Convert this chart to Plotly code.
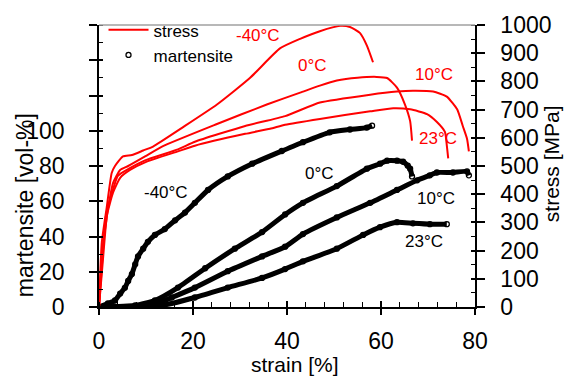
import plotly.graph_objects as go

# ---------------- data ----------------
# stress curves (strain %, stress MPa)
s_strain_m40 = [0, 0.6, 1.6, 2.7, 3.4, 5.1, 7.0, 9.4, 11.5, 17.9, 25.1, 32.1, 38.5, 42.8, 47.0, 51.3, 53.4, 55.5, 57.0, 58.3]
s_stress_m40 = [0, 230, 348, 475, 500, 534, 539, 555, 569, 638, 718, 812, 917, 951, 978, 997, 993, 972, 927, 868]

s_strain_0 = [0, 0.7, 1.5, 1.9, 3.0, 4.5, 6.2, 9.8, 13.4, 25.1, 35.7, 42.8, 47.0, 50.6, 55.0, 59.1, 61.3, 63.4, 65.1, 66.2, 66.6]
s_stress_0 = [0, 200, 300, 347, 440, 486, 500, 534, 569, 649, 718, 760, 785, 803, 813, 816, 812, 778, 718, 659, 590]

s_strain_10 = [0, 0.8, 1.5, 2.8, 4.0, 6.2, 9.8, 16.8, 20.4, 31.1, 39.6, 47.0, 57.7, 63.4, 66.8, 71.1, 74.0, 76.2, 77.4, 78.3, 78.7]
s_stress_10 = [0, 190, 326, 406, 465, 489, 520, 559, 586, 642, 677, 725, 753, 764, 767, 764, 746, 701, 642, 597, 552]

s_strain_23 = [0, 0.9, 1.7, 3.0, 4.5, 6.6, 9.8, 16.8, 20.4, 31.1, 36.4, 39.6, 47.0, 57.7, 62.6, 66.2, 69.8, 71.9, 73.6, 74.0, 74.3]
s_stress_23 = [0, 180, 326, 406, 458, 486, 513, 552, 572, 614, 632, 646, 667, 694, 705, 701, 684, 656, 621, 573, 527]

# martensite curves (strain %, vol-%)
m_strain_m40 = [0, 1.9, 3.4, 4.5, 5.5, 6.2, 7.0, 7.7, 8.3, 9.4, 10.4, 11.9, 14.0, 16.2, 18.3, 20.4, 23.2, 27.4, 32.6, 38.9, 43.4, 49.1, 53.4, 57.0, 58.1]
m_vol_m40 = [0, 2.0, 3.7, 7.6, 10.9, 14.8, 18.7, 24.2, 28.7, 33.1, 37.0, 40.9, 44.2, 49.2, 53.6, 59.1, 66.4, 74.1, 81.3, 88.5, 93.5, 99.1, 100.7, 101.8, 102.9]

m_strain_0 = [0, 7.7, 11.9, 16.8, 22.6, 28.9, 34.7, 39.6, 43.4, 50.6, 57.0, 59.8, 61.3, 63.4, 64.7, 65.7, 66.2, 66.6]
m_vol_0 = [0, 0.9, 3.7, 11.0, 22.0, 33.1, 42.5, 52.5, 59.1, 68.6, 78.5, 81.3, 83.0, 83.0, 82.4, 80.2, 78.5, 74.1]

m_strain_10 = [0, 8.7, 11.3, 15.5, 20.4, 27.4, 34.7, 39.6, 43.4, 50.6, 57.7, 63.4, 67.7, 70.4, 71.9, 75.3, 78.3, 78.7]
m_vol_10 = [0, 0.4, 0.9, 5.4, 11.0, 20.3, 28.7, 34.2, 41.4, 50.8, 59.1, 66.4, 71.9, 74.7, 76.3, 76.3, 76.9, 74.7]

m_strain_23 = [0, 8.7, 13.4, 20.4, 27.4, 34.7, 39.6, 43.4, 50.6, 56.2, 59.8, 63.4, 66.8, 70.4, 74.0]
m_vol_23 = [0, 0.4, 0.9, 5.4, 11.0, 16.5, 21.5, 25.9, 33.1, 40.9, 45.3, 48.1, 47.5, 47.0, 47.0]

x_ticks = [0, 20, 40, 60, 80]
y_ticks = [0, 20, 40, 60, 80, 100, 120, 140, 160]
y_ticktext = ["0", "20", "40", "60", "80", "100", "", "", ""]
y2_ticks = [0, 100, 200, 300, 400, 500, 600, 700, 800, 900, 1000]

# temperature labels: (text, strain, value)
red_labels = [("-40°C", 33.8, 962), ("0°C", 45.5, 857), ("10°C", 71.3, 823), ("23°C", 72.1, 597)]
black_labels = [("-40°C", 14.3, 64.7), ("0°C", 47.0, 75.8), ("10°C", 71.7, 61.4), ("23°C", 69.1, 37.0)]

RED = "#FF0000"
FONT = "Liberation Sans, Arial, sans-serif"

fig = go.Figure()

# martensite: thick black band + open circles
mart = [(m_strain_m40, m_vol_m40), (m_strain_0, m_vol_0), (m_strain_10, m_vol_10), (m_strain_23, m_vol_23)]
for i, (xs, ys) in enumerate(mart):
    fig.add_trace(go.Scatter(x=xs, y=ys, mode="lines", line=dict(color="black", width=5, shape="spline", smoothing=0.5),
                             showlegend=False, hoverinfo="skip", yaxis="y"))
for i, (xs, ys) in enumerate(mart):
    fig.add_trace(go.Scatter(x=xs, y=ys, mode="markers",
                             marker=dict(symbol="circle-open", size=5, color="black", line=dict(width=1.3)),
                             name="martensite", showlegend=(i == 0), legendrank=2, yaxis="y"))

# stress curves
stress = [(s_strain_m40, s_stress_m40), (s_strain_0, s_stress_0), (s_strain_10, s_stress_10), (s_strain_23, s_stress_23)]
for i, (xs, ys) in enumerate(stress):
    fig.add_trace(go.Scatter(x=xs, y=ys, mode="lines", line=dict(color=RED, width=2, shape="spline", smoothing=0.5),
                             name="stress", showlegend=(i == 0), legendrank=1, yaxis="y2"))

annotations = []
for t, x, y in red_labels:
    annotations.append(dict(text=t, x=x, y=y, xref="x", yref="y2", showarrow=False,
                            font=dict(color=RED, size=17, family=FONT)))
for t, x, y in black_labels:
    annotations.append(dict(text=t, x=x, y=y, xref="x", yref="y", showarrow=False,
                            font=dict(color="black", size=17, family=FONT)))
# axis titles
annotations.append(dict(text="martensite [vol-%]", x=-0.197, y=0.361, xref="paper", yref="paper",
                        xanchor="center", yanchor="middle",
                        textangle=-90, showarrow=False, font=dict(size=23, family=FONT, color="black")))
annotations.append(dict(text="stress [MPa]", x=1.202, y=0.51, xref="paper", yref="paper",
                        xanchor="center", yanchor="middle",
                        textangle=-90, showarrow=False, font=dict(size=21, family=FONT, color="black")))
annotations.append(dict(text="strain [%]", x=0.52, y=-0.203, xref="paper", yref="paper",
                        xanchor="center", yanchor="middle",
                        showarrow=False, font=dict(size=21, family=FONT, color="black")))

axis_common = dict(showgrid=False, zeroline=False, showline=True, linecolor="black", linewidth=1.5,
                   tickcolor="black", tickwidth=1.5, tickfont=dict(size=23, family=FONT, color="black"))

fig.update_layout(
    width=564, height=379,
    margin=dict(l=99, r=89, t=19, b=72),
    paper_bgcolor="white", plot_bgcolor="white",
    font=dict(family=FONT, color="black"),
    xaxis=dict(range=[0, 80], tickvals=x_ticks, ticks="outside", ticklen=6,
               minor=dict(dtick=4, ticks="inside", ticklen=5, tickcolor="black", tickwidth=1),
               ticklabelstandoff=7, **axis_common),
    yaxis=dict(range=[0, 160], tickvals=y_ticks, ticktext=y_ticktext, ticks="outside", ticklen=8,
               minor=dict(dtick=10, ticks="inside", ticklen=4, tickcolor="black", tickwidth=1),
               ticklabelstandoff=20, **axis_common),
    yaxis2=dict(range=[0, 1000], tickvals=y2_ticks, ticks="outside", ticklen=8, overlaying="y", side="right",
                minor=dict(dtick=50, ticks="inside", ticklen=4, tickcolor="black", tickwidth=1),
                ticklabelstandoff=11, **axis_common),
    # overlay axes for the inner half of the crossing major ticks
    xaxis2=dict(range=[0, 80], tickvals=x_ticks, ticks="inside", ticklen=6, overlaying="x",
                showticklabels=False, showgrid=False, zeroline=False, showline=False,
                tickcolor="black", tickwidth=1.5),
    yaxis3=dict(range=[0, 160], tickvals=y_ticks, ticks="inside", ticklen=4, overlaying="y",
                showticklabels=False, showgrid=False, zeroline=False, showline=False,
                tickcolor="black", tickwidth=1.5),
    yaxis4=dict(range=[0, 1000], tickvals=y2_ticks, ticks="inside", ticklen=4, overlaying="y", side="right",
                showticklabels=False, showgrid=False, zeroline=False, showline=False,
                tickcolor="black", tickwidth=1.5),
    legend=dict(x=0.012, y=1.045, xanchor="left", yanchor="top", bgcolor="rgba(0,0,0,0)",
                font=dict(size=17, family=FONT, color="black"), tracegroupgap=0, itemwidth=40),
    annotations=annotations,
    shapes=[dict(type="line", xref="paper", yref="paper", x0=0, x1=1, y0=1, y1=1,
                 line=dict(color="#A0A0A0", width=1.5))],
)

# invisible traces to activate the overlay tick axes
fig.add_trace(go.Scatter(x=[None], y=[None], xaxis="x2", yaxis="y3", showlegend=False, hoverinfo="skip"))
fig.add_trace(go.Scatter(x=[None], y=[None], xaxis="x2", yaxis="y4", showlegend=False, hoverinfo="skip"))

fig.write_html("out.html")
